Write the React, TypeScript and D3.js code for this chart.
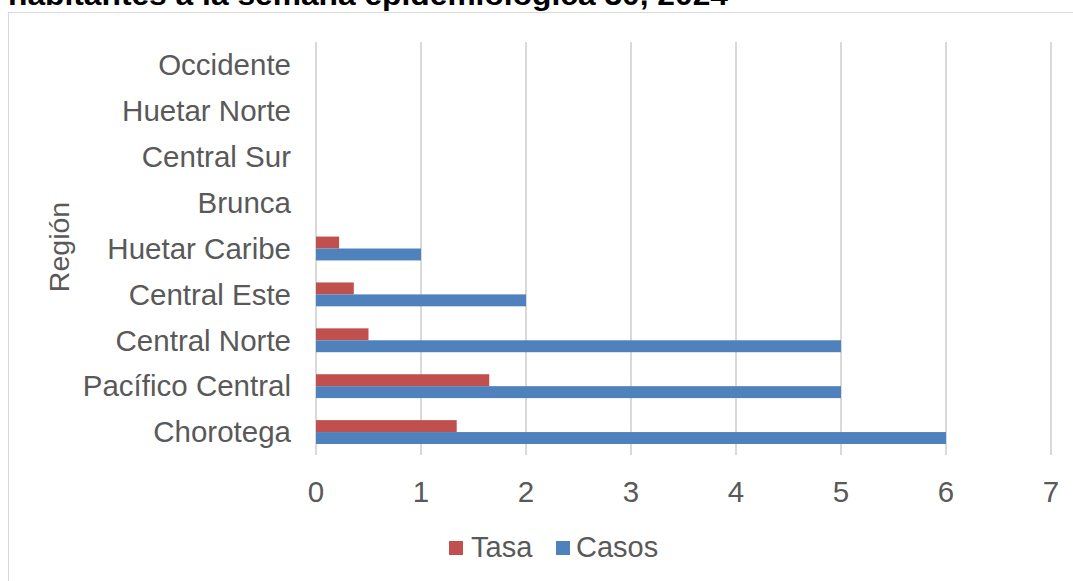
import React from "react";
import * as d3 from "d3";

const regions = [
  "Chorotega",
  "Pacífico Central",
  "Central Norte",
  "Central Este",
  "Huetar Caribe",
  "Brunca",
  "Central Sur",
  "Huetar Norte",
  "Occidente",
];
const casos = [6, 5, 5, 2, 1, 0, 0, 0, 0];
const tasa = [1.34, 1.65, 0.5, 0.36, 0.22, 0, 0, 0, 0];
const xTicks = [0, 1, 2, 3, 4, 5, 6, 7];
const title = "habitantes a la semana epidemiológica 30, 2024";

const W = 1073;
const H = 581;
const font = "Liberation Sans, Arial, sans-serif";
const textColor = "#595959";
const red = "#C0504D";
const blue = "#4F81BD";

const App = () => {
  const x = d3.scaleLinear().domain([0, 7]).range([316, 1051]);
  const y = d3
    .scaleBand<string>()
    .domain([...regions].reverse())
    .range([42, 455])
    .paddingInner(0.48)
    .paddingOuter(0.24);
  const sub = d3
    .scaleBand<string>()
    .domain(["Tasa", "Casos"])
    .range([0, y.bandwidth()]);

  const rows = regions.map((r, i) => ({ region: r, casos: casos[i], tasa: tasa[i] }));

  return (
    <svg
      width={W}
      height={H}
      style={{ position: "absolute", top: 0, left: 0, background: "#fff" }}
      fontFamily={font}
    >
      {/* title is cropped at the top in the source picture */}
      <text
        x={8}
        y={5}
        fontSize={30}
        fontWeight="bold"
        fill="#000"
        textLength={720}
        lengthAdjust="spacingAndGlyphs"
      >
        {title}
      </text>
      <rect x={8.5} y={12.5} width={1200} height={700} fill="#fff" stroke="#d9d9d9" strokeWidth={1} />

      {xTicks.map((t) => (
        <line key={t} x1={x(t)} x2={x(t)} y1={42} y2={455} stroke="#d9d9d9" strokeWidth={2} />
      ))}

      {rows.map((d) => (
        <g key={d.region} transform={`translate(0,${y(d.region)})`}>
          {d.tasa > 0 && (
            <rect
              x={x(0)}
              y={sub("Tasa")}
              width={x(d.tasa) - x(0)}
              height={sub.bandwidth()}
              fill={red}
            />
          )}
          {d.casos > 0 && (
            <rect
              x={x(0)}
              y={sub("Casos")}
              width={x(d.casos) - x(0)}
              height={sub.bandwidth()}
              fill={blue}
            />
          )}
        </g>
      ))}

      {regions.map((r) => (
        <text
          key={r}
          x={291}
          y={(y(r) as number) + y.bandwidth() / 2}
          dy="0.35em"
          textAnchor="end"
          fontSize={29.5}
          fill={textColor}
        >
          {r}
        </text>
      ))}

      {xTicks.map((t) => (
        <text key={t} x={x(t)} y={502} textAnchor="middle" fontSize={29.5} fill={textColor}>
          {t}
        </text>
      ))}

      <text
        transform="translate(69,247) rotate(-90)"
        textAnchor="middle"
        fontSize={28.5}
        fill={textColor}
      >
        Región
      </text>

      <g>
        <rect x={449} y={541} width={14} height={14} fill={red} />
        <text x={471} y={557} fontSize={29} fill={textColor}>
          Tasa
        </text>
        <rect x={556} y={541} width={14} height={14} fill={blue} />
        <text x={576} y={557} fontSize={29} fill={textColor}>
          Casos
        </text>
      </g>
    </svg>
  );
};

export default App;
